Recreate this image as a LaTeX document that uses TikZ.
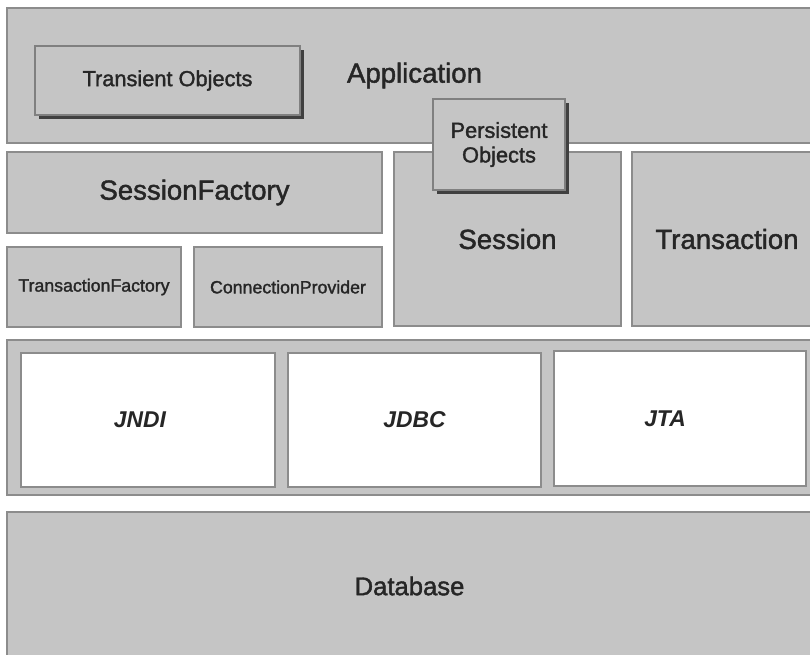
\documentclass[tikz,border=0pt]{standalone}
\usepackage{fontspec}
\setmainfont{Liberation Sans}
\newfontfamily\heavysans{Liberation Sans}[FakeBold=1.6]
\usepackage{tikz}
\usetikzlibrary{shadows, backgrounds}
\definecolor{layergray}{RGB}{197,197,197}
\definecolor{edgegray}{RGB}{140,140,140}
\definecolor{inkgray}{RGB}{38,38,38}
\tikzset{
    layer/.style={draw=edgegray, fill=layergray, line width=0.8pt, inner sep=0pt, text=inkgray},
    api/.style={draw=edgegray, fill=white, line width=0.8pt, inner sep=0pt, text=inkgray,
        font=\fontsize{13}{15}\selectfont\bfseries\itshape},
    objbox/.style={layer, draw=gray, drop shadow={shadow xshift=0.08cm, shadow yshift=-0.08cm, fill=black!75, opacity=1}},
    bigfont/.style={font=\heavysans\fontsize{15.7}{18}\selectfont},
    midfont/.style={font=\heavysans\fontsize{12.4}{14}\selectfont},
    smallfont/.style={font=\heavysans\fontsize{10.1}{12}\selectfont}
}

\begin{document}
\begin{tikzpicture}[x=0.02cm,y=-0.02cm]
        \clip (0,0) rectangle (810,654);
        \fill[white] (0,0) rectangle (810,654);
        % application layer
        \node[layer, bigfont, minimum width=16.1cm, minimum height=2.7cm] (app) at (409.5,75.5) {\hspace{0.2cm}Application};
        \node[objbox, midfont, minimum width=5.3cm, minimum height=1.38cm] (transient) at (167.5,80.5) {Transient Objects};
        % hibernate layer
        \node[layer, bigfont, minimum width=7.5cm, minimum height=1.62cm] (factory) at (194.5,192.5) {SessionFactory};
        \node[layer, smallfont, minimum width=3.48cm, minimum height=1.6cm] (txfactory) at (94,287) {TransactionFactory};
        \node[layer, smallfont, minimum width=3.76cm, minimum height=1.6cm] (provider) at (288,287) {ConnectionProvider};
        \node[layer, bigfont, minimum width=4.54cm, minimum height=3.48cm] (session) at (507.5,239) {Session};
        \node[layer, bigfont, minimum width=3.6cm, minimum height=3.48cm] (transaction) at (722,239) {\hspace{0.2cm}Transaction};
        \node[objbox, midfont, align=center, minimum width=2.64cm, minimum height=1.82cm] (persistent) at (499,144.5) {Persistent\\Objects};
        % java apis
        \node[layer, minimum width=16.1cm, minimum height=3.1cm] (apis) at (409.5,417.5) {};
        \node[api, minimum width=5.08cm, minimum height=2.68cm] (jndi) at (148,420) {JNDI\kern0.32cm};
        \node[api, minimum width=5.06cm, minimum height=2.68cm] (jdbc) at (414.5,420) {JDBC};
        \node[api, minimum width=5.04cm, minimum height=2.7cm] (jta) at (680,418.5) {JTA\kern0.6cm};
        % database
        \node[layer, font=\heavysans\fontsize{14.6}{17}\selectfont, minimum width=16.1cm, minimum height=2.96cm] (db) at (409.5,586) {Database};
    \end{tikzpicture}
\end{document}
